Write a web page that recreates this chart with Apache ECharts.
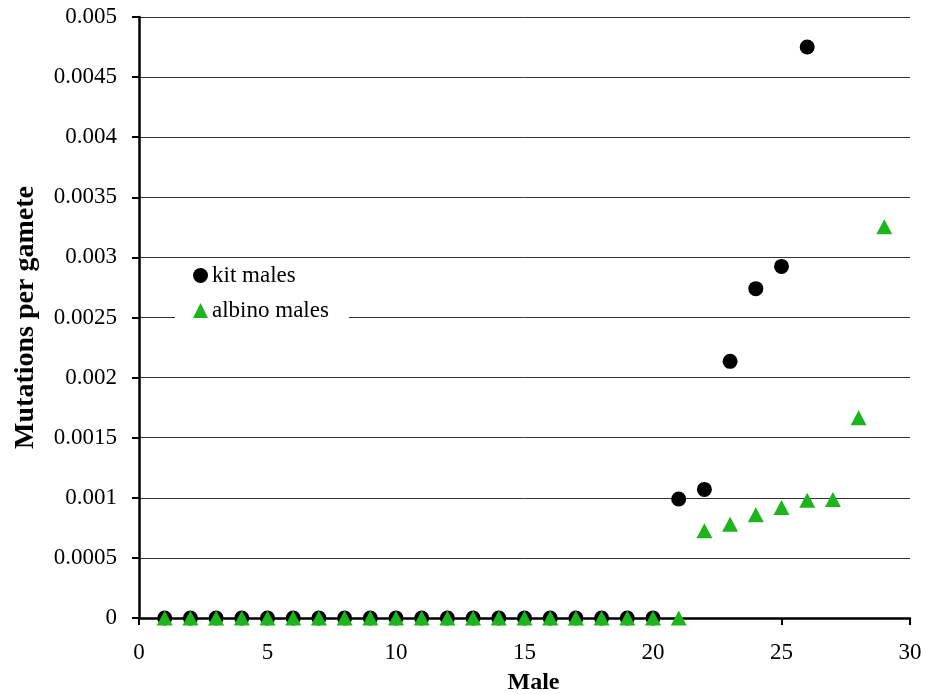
<!DOCTYPE html>
<html><head><meta charset="utf-8">
<script src="https://cdn.jsdelivr.net/npm/echarts@6/dist/echarts.min.js"></script>
<style>html,body{margin:0;padding:0;background:#fff}#c{width:926px;height:694px}</style>
</head><body><div id="c"></div>
<script>
const kitMale = [1,2,3,4,5,6,7,8,9,10,11,12,13,14,15,16,17,18,19,20,21,22,23,24,25,26];
const kitValue = [0,0,0,0,0,0,0,0,0,0,0,0,0,0,0,0,0,0,0,0,0.00099,0.00107,0.002135,0.00274,0.002925,0.00475];
const albinoMale = [1,2,3,4,5,6,7,8,9,10,11,12,13,14,15,16,17,18,19,20,21,22,23,24,25,26,27,28,29];
const albinoValue = [0,0,0,0,0,0,0,0,0,0,0,0,0,0,0,0,0,0,0,0,0,0.000726,0.00078,0.00086,0.00092,0.00098,0.000985,0.001667,0.003256];
const seriesNames = ['kit males','albino males'];
const font = '"Liberation Serif", "Times New Roman", serif';

const chart = echarts.init(document.getElementById('c'), null, {renderer:'canvas'});
chart.setOption({
  animation:false,
  backgroundColor:'#fff',
  grid:{left:139,right:16,top:17,bottom:76,containLabel:false,outerBoundsMode:'none'},
  legend:{
    orient:'vertical', left:175, top:260,
    backgroundColor:'#fff', padding:[4,20,4,18], itemGap:12,
    itemWidth:15, itemHeight:15,
    textStyle:{fontFamily:font,fontSize:23,color:'#000',padding:[0,0,0,-1]},
    data:[{name:seriesNames[0],icon:'circle'},{name:seriesNames[1],icon:'triangle'}]
  },
  xAxis:{
    type:'value', min:0, max:30, interval:5,
    name:'Male', nameLocation:'middle', nameGap:53,
    nameTextStyle:{fontFamily:font,fontSize:24,fontWeight:'bold',color:'#000',padding:[0,0,0,18]},
    axisLine:{onZero:false,lineStyle:{color:'#000',width:2.5}},
    axisTick:{show:true,inside:false,length:7,lineStyle:{color:'#000',width:2}},
    axisLabel:{fontFamily:font,fontSize:23,color:'#000',margin:23},
    splitLine:{show:false}
  },
  yAxis:{
    type:'value', min:0, max:0.005, interval:0.0005,
    name:'Mutations per gamete', nameLocation:'middle', nameGap:99,
    nameTextStyle:{fontFamily:font,fontSize:28,fontWeight:'bold',color:'#000'},
    axisLine:{show:true,lineStyle:{color:'#000',width:2.5}},
    axisTick:{show:true,inside:false,length:7,lineStyle:{color:'#000',width:2}},
    axisLabel:{fontFamily:font,fontSize:23,color:'#000',margin:22},
    splitLine:{show:true,lineStyle:{color:'#333',width:1}}
  },
  series:[
    {name:seriesNames[0],type:'scatter',symbol:'circle',symbolSize:15,
     itemStyle:{color:'#000',opacity:1},z:2,
     data:kitMale.map((m,i)=>[m,kitValue[i]])},
    {name:seriesNames[1],type:'scatter',symbol:'triangle',symbolSize:[16,15],
     itemStyle:{color:'#1db41d',opacity:1},z:3,
     data:albinoMale.map((m,i)=>[m,albinoValue[i]])}
  ]
});
</script></body></html>
